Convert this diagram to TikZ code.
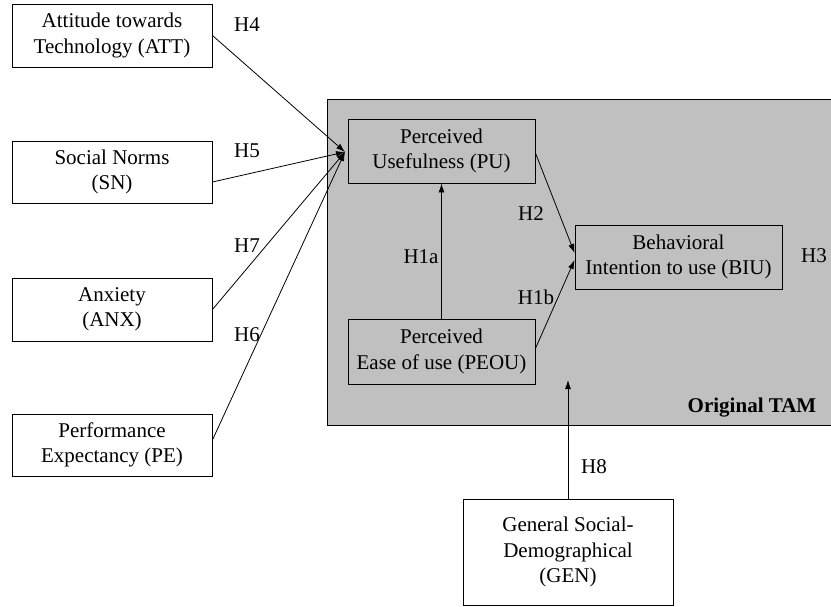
\documentclass[tikz,border=0pt]{standalone}
\usepackage{fontspec}
\setmainfont{Liberation Serif}
\usetikzlibrary{arrows.meta}
\definecolor{tamgray}{RGB}{192,192,192}

\begin{document}
\begin{tikzpicture}[x = 1pt, y = -1pt,
	caja/.style  = {draw, line width = 0.9pt, fill = white, align = center, inner sep = 0pt, font = \fontsize{21}{25.5}\selectfont},
	etiq/.style  = {anchor = base, inner sep = 0pt, font = \fontsize{21}{25.5}\selectfont},
	flecha/.style = {line width = 0.8pt, -{Latex[length = 9pt, width = 6pt]}}]

	\useasboundingbox (0, 0) rectangle (831, 607);

	\fill[tamgray] (327, 99) rectangle (831, 425); % Modelo TAM
	\draw[line width = 0.9pt] (831, 99) -- (327, 99) -- (327, 425) -- (831, 425);
	\node[etiq, font = \fontsize{21}{25.5}\selectfont\bfseries] (tam) at (752, 412) {Original TAM};

	\node[caja, minimum width = 200, minimum height = 63] (att) at (112, 35.5) {Attitude towards\\Technology (ATT)};
	\node[caja, minimum width = 200, minimum height = 62] (sn)  at (112, 172)  {Social Norms\\(SN)};
	\node[caja, minimum width = 200, minimum height = 63] (anx) at (112, 309.5) {Anxiety\\(ANX)};
	\node[caja, minimum width = 200, minimum height = 62] (pe)  at (112, 445)  {Performance\\Expectancy (PE)};

	\node[caja, fill = tamgray, minimum width = 187, minimum height = 64] (pu)   at (441.5, 151)   {Perceived\\Usefulness (PU)};
	\node[caja, fill = tamgray, minimum width = 187, minimum height = 65] (peou) at (441.5, 351.5) {Perceived\\Ease of use (PEOU)};
	\node[caja, fill = tamgray, minimum width = 207, minimum height = 64] (biu)  at (678.5, 257)   {Behavioral\\Intention to use (BIU)};

	\node[caja, minimum width = 210, minimum height = 106] (gen) at (568, 552) {General Social-\\Demographical\\(GEN)};

	\coordinate (hub) at (345, 152);  % punta comun
	\coordinate (tamin) at (568, 380);

	\draw[flecha] (att.east) -- (hub);
	\draw[flecha] ([yshift = -10pt]sn.east) -- (hub);
	\draw[flecha] (anx.east) -- (hub);
	\draw[flecha] ([yshift = 5pt]pe.east) -- (hub);

	\draw[flecha] (peou.north) -- (pu.south);
	\draw[flecha] ([yshift = -2pt]pu.east) -- ([yshift = 4pt]biu.west);
	\draw[flecha] ([yshift = 3pt]peou.east) -- ([yshift = -3pt]biu.west);
	\draw[flecha] (gen.north) -- (tamin);

	\node[etiq] (h4)  at (247, 32)  {H4};
	\node[etiq] (h5)  at (247, 158) {H5};
	\node[etiq] (h7)  at (247, 252) {H7};
	\node[etiq] (h6)  at (247, 341) {H6};
	\node[etiq] (h2)  at (531, 221) {H2};
	\node[etiq] (h1a) at (421, 263) {H1a};
	\node[etiq] (h1b) at (536, 305) {H1b};
	\node[etiq] (h3)  at (814, 262) {H3};
	\node[etiq] (h8)  at (594, 473) {H8};

\end{tikzpicture}
\end{document}
